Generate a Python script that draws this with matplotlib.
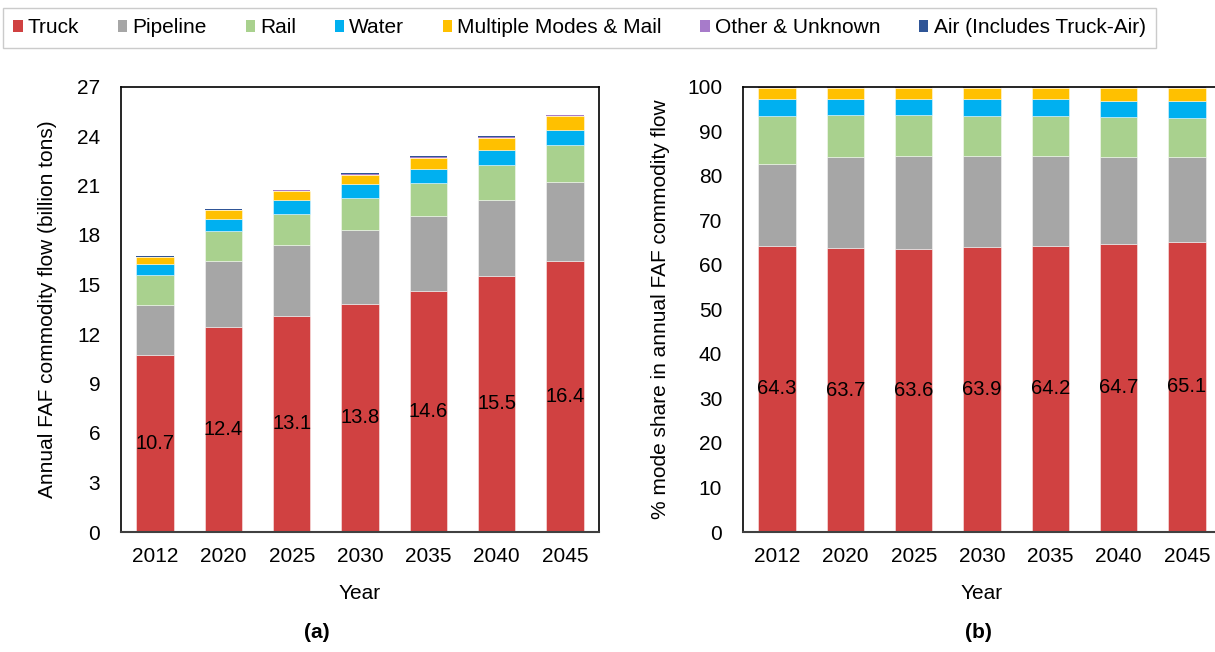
import matplotlib
matplotlib.use("Agg")
import matplotlib.pyplot as plt
from matplotlib.patches import Patch
import numpy as np

plt.rcParams['font.family'] = ['Liberation Sans', 'DejaVu Sans']

years = ['2012', '2020', '2025', '2030', '2035', '2040', '2045']
modes = ['Truck', 'Pipeline', 'Rail', 'Water', 'Multiple Modes & Mail',
         'Other & Unknown', 'Air (Includes Truck-Air)']
colors = ['#D04141', '#A6A6A6', '#A9D18E', '#00B0F0', '#FFC000', '#A77BCA', '#2F5597']

# (a) billion tons
truck_t = [10.72, 12.42, 13.12, 13.84, 14.61, 15.52, 16.42]
pipe_t = [3.04, 3.98, 4.27, 4.44, 4.54, 4.62, 4.79]
rail_t = [1.80, 1.82, 1.90, 1.94, 2.02, 2.11, 2.26]
water_t = [0.66, 0.77, 0.83, 0.85, 0.86, 0.89, 0.92]
multi_t = [0.43, 0.50, 0.54, 0.58, 0.65, 0.73, 0.81]
other_t = [0.04, 0.04, 0.04, 0.05, 0.05, 0.06, 0.06]
air_t = [0.02, 0.02, 0.02, 0.03, 0.03, 0.04, 0.04]

# (b) percent share
truck_p = [64.3, 63.7, 63.6, 63.9, 64.2, 64.7, 65.1]
pipe_p = [18.3, 20.45, 20.8, 20.5, 20.1, 19.45, 19.05]
rail_p = [10.75, 9.35, 9.1, 8.95, 9.05, 9.0, 8.75]
water_p = [3.95, 3.8, 3.8, 3.9, 3.75, 3.7, 3.75]
multi_p = [2.4, 2.4, 2.4, 2.45, 2.6, 2.85, 3.05]
other_p = [0.2, 0.2, 0.2, 0.2, 0.2, 0.2, 0.2]
air_p = [0.1, 0.1, 0.1, 0.1, 0.1, 0.1, 0.1]

series_t = [truck_t, pipe_t, rail_t, water_t, multi_t, other_t, air_t]
series_p = [truck_p, pipe_p, rail_p, water_p, multi_p, other_p, air_p]

W, H = 1215, 652
fig = plt.figure(figsize=(W / 100, H / 100), dpi=100)

axL = fig.add_axes([121 / W, 1 - 532 / H, 478 / W, (532 - 86.5) / H])
axR = fig.add_axes([743 / W, 1 - 532 / H, 478 / W, (532 - 86.5) / H])

x = np.arange(len(years))
FS = 15


def draw(ax, series, ymax, step, label_fmt):
    bottom = np.zeros(len(years))
    for k, (vals, c) in enumerate(zip(series, colors)):
        v = np.array(vals)
        thin = k >= 5
        ax.bar(x, v, width=0.55, bottom=bottom, color=c,
               edgecolor='none' if thin else (1, 1, 1, 0.45),
               linewidth=0 if thin else 0.7, zorder=2)
        bottom += v
    for i, v in enumerate(series[0]):
        ax.text(i, v / 2, label_fmt.format(v), ha='center', va='center',
                fontsize=14.5, color='black', zorder=3)
    ax.set_xlim(-0.5, len(years) - 0.5)
    ax.set_ylim(0, ymax)
    ax.set_yticks(np.arange(0, ymax + 0.01, step))
    ax.set_xticks(x)
    ax.set_xticklabels(years)
    ax.tick_params(axis='both', length=0, labelsize=FS)
    ax.tick_params(axis='y', pad=15)
    ax.tick_params(axis='x', pad=11)
    for s in ['left', 'top', 'right']:
        ax.spines[s].set_color('black')
        ax.spines[s].set_linewidth(1.2)
    ax.spines['bottom'].set_color('#404040')
    ax.spines['bottom'].set_linewidth(1.5)
    ax.set_xlabel('Year', fontsize=FS, labelpad=13)


draw(axL, series_t, 27, 3, '{:.1f}')
draw(axR, series_p, 100, 10, '{:.1f}')

axL.set_ylabel('Annual FAF commodity flow (billion tons)', fontsize=FS, labelpad=14)
axR.set_ylabel('% mode share in annual FAF commodity flow', fontsize=FS, labelpad=12)

fig.text(317 / W, 1 - 633 / H, '(a)', ha='center', va='center', fontsize=FS,
         fontweight='bold')
fig.text(978 / W, 1 - 633 / H, '(b)', ha='center', va='center', fontsize=FS,
         fontweight='bold')

handles = [Patch(facecolor=c, edgecolor='none') for c in colors]
leg = fig.legend(handles, modes, loc='upper left', ncol=7,
                 bbox_to_anchor=(3 / W, 1 - 8 / H), fontsize=FS,
                 handlelength=0.45, handleheight=0.45, handletextpad=0.25,
                 columnspacing=1.85, borderpad=0.5, borderaxespad=0,
                 frameon=True, fancybox=False)
leg.get_frame().set_edgecolor('#BFBFBF')
leg.get_frame().set_linewidth(1.0)

fig.savefig('out.png', dpi=100)
